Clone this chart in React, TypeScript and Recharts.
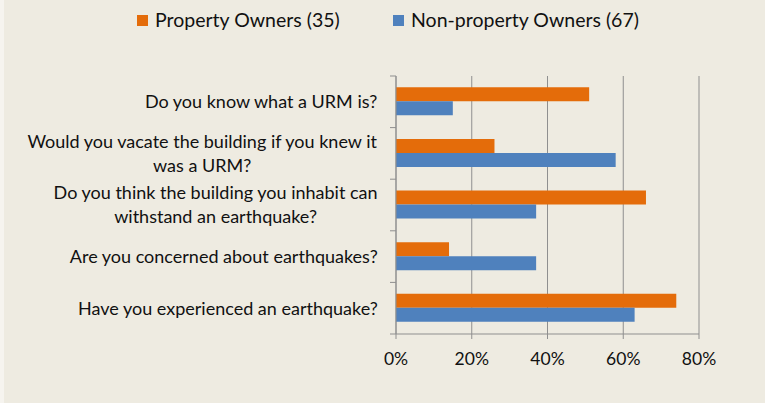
import { Bar, BarChart, CartesianGrid, XAxis, YAxis } from "recharts";

const categories = [
  "Do you know what a URM is?",
  "Would you vacate the building if you knew it was a URM?",
  "Do you think the building you inhabit can withstand an earthquake?",
  "Are you concerned about earthquakes?",
  "Have you experienced an earthquake?",
];
const propertyOwners = [0.51, 0.26, 0.66, 0.14, 0.74];
const nonPropertyOwners = [0.15, 0.58, 0.37, 0.37, 0.63];
const seriesNames = ["Property Owners (35)", "Non-property Owners (67)"];
const percentTicks = [0, 0.2, 0.4, 0.6, 0.8];

const ORANGE = "#E46C0A";
const BLUE = "#4F81BD";
const GRAY = "#8F8F8F";
const BG = "#EEEBE1";
const FONT = "Lato, 'Open Sans', sans-serif";
const LABEL_SIZE = 18;
const WRAP_WIDTH = 358;

const TOP = 76;
const BOTTOM = 69;
const HEIGHT = 403;
const BAND = (HEIGHT - TOP - BOTTOM) / categories.length;

const data = categories.map((q, i) => ({
  q,
  owners: propertyOwners[i],
  nonOwners: nonPropertyOwners[i],
}));

let ctx: CanvasRenderingContext2D | null = null;
function textWidth(s: string) {
  if (!ctx) ctx = document.createElement("canvas").getContext("2d");
  if (!ctx) return s.length * LABEL_SIZE * 0.5;
  ctx.font = `${LABEL_SIZE}px ${FONT}`;
  return ctx.measureText(s).width;
}

function wrap(s: string) {
  const lines: string[] = [];
  let cur = "";
  for (const w of s.split(" ")) {
    const next = cur ? cur + " " + w : w;
    if (cur && textWidth(next) > WRAP_WIDTH) {
      lines.push(cur);
      cur = w;
    } else cur = next;
  }
  if (cur) lines.push(cur);
  return lines;
}

// category label plus Excel-style tick marks on the band boundaries
function QuestionTick({ x, y, payload, index }: { x: number; y: number; payload: { value: string }; index: number }) {
  const lines = wrap(payload.value);
  const block = Math.max(...lines.map(textWidth));
  const axisX = 396;
  const right = axisX - 18;
  const lh = 24;
  const top = y - ((lines.length - 1) * lh) / 2;
  const last = index === categories.length - 1;
  return (
    <g>
      <line x1={axisX - 6} x2={axisX} y1={y - BAND / 2} y2={y - BAND / 2} stroke={GRAY} />
      {last && <line x1={axisX - 6} x2={axisX} y1={y + BAND / 2} y2={y + BAND / 2} stroke={GRAY} />}
      {lines.map((l, i) => (
        <text
          key={i}
          x={right - block / 2}
          y={top + i * lh}
          dy="0.35em"
          textAnchor="middle"
          fontSize={LABEL_SIZE}
          fontFamily={FONT}
          fill="#111"
        >
          {l}
        </text>
      ))}
    </g>
  );
}

function LegendRow() {
  const items = [
    { name: seriesNames[0], color: ORANGE, left: 137 },
    { name: seriesNames[1], color: BLUE, left: 393 },
  ];
  return (
    <>
      {items.map((it) => (
        <div
          key={it.name}
          style={{ position: "absolute", left: it.left, top: 8, display: "flex", alignItems: "center", gap: 7 }}
        >
          <span style={{ width: 11, height: 11, background: it.color, display: "inline-block" }} />
          <span style={{ fontFamily: FONT, fontSize: 19.5, color: "#111", lineHeight: "24px" }}>{it.name}</span>
        </div>
      ))}
    </>
  );
}

export default function App() {
  return (
    <div style={{ position: "relative", width: 765, height: HEIGHT, background: BG, overflow: "hidden" }}>
      <style>{`body{margin:0}`}</style>
      <div style={{ position: "absolute", left: 0, top: 0, width: 4, height: HEIGHT, background: "#F6F4EF" }} />
      <LegendRow />
      <BarChart
        width={765}
        height={HEIGHT}
        data={data}
        layout="vertical"
        margin={{ top: TOP, right: 66, bottom: BOTTOM - 30, left: 0 }}
        barCategoryGap="22%"
        barGap={0}
      >
        <CartesianGrid horizontal={false} stroke={GRAY} strokeWidth={1} />
        <XAxis
          type="number"
          domain={[0, 0.8]}
          ticks={percentTicks}
          tickFormatter={(v: number) => `${Math.round(v * 100)}%`}
          axisLine={{ stroke: GRAY }}
          tickLine={{ stroke: GRAY }}
          tickSize={5}
          tickMargin={14}
          height={30}
          tick={{ fontSize: 17.5, fontFamily: FONT, fill: "#111" }}
          interval={0}
        />
        <YAxis
          type="category"
          dataKey="q"
          width={396}
          axisLine={{ stroke: GRAY }}
          tickLine={false}
          tick={(p: any) => <QuestionTick {...p} />}
          interval={0}
        />
        <Bar dataKey="owners" name={seriesNames[0]} fill={ORANGE} isAnimationActive={false} />
        <Bar dataKey="nonOwners" name={seriesNames[1]} fill={BLUE} isAnimationActive={false} />
      </BarChart>
    </div>
  );
}
